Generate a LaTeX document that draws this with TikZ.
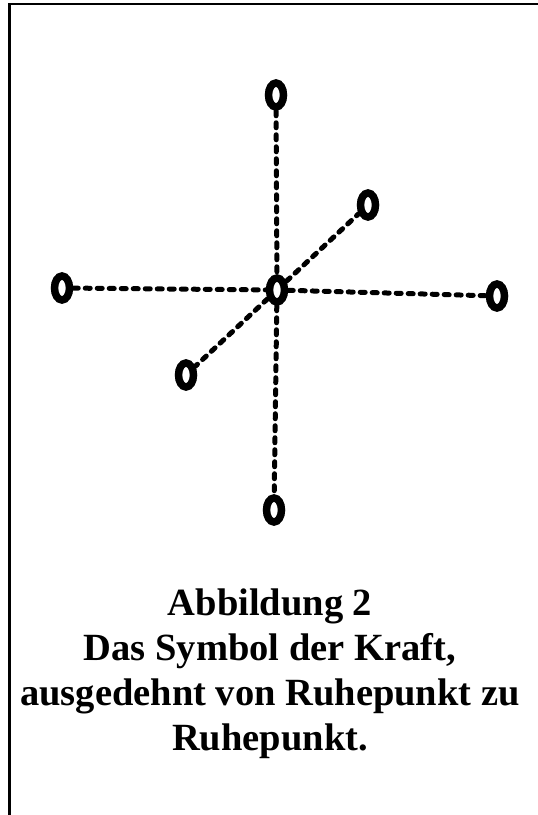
\documentclass[tikz,border=0pt]{standalone}
\usepackage{fontspec}
\setmainfont{Liberation Serif}
\usetikzlibrary{shapes.geometric}
\begin{document}
\begin{tikzpicture}[x=1pt,y=-1pt,
  ring/.style={ellipse,draw,line width=7.5pt,minimum width=15pt,minimum height=24pt,inner sep=0pt},
  dots/.style={line width=5pt,line cap=round,dash pattern=on 5pt off 7pt},
  caption/.style={align=center,font=\fontsize{38.5}{45}\selectfont\bfseries,inner sep=0pt}]
\useasboundingbox (0,0) rectangle (538,815);
\draw[line width=2.5pt] (9.5,815) -- (9.5,4) -- (538,4);
\node[ring] (c) at (277,290) {};
\node[ring] (t) at (276,95) {};
\node[ring] (b) at (274,510) {};
\node[ring] (l) at (62,288) {};
\node[ring] (r) at (497,296) {};
\node[ring] (ur) at (368,205) {};
\node[ring] (ll) at (186,375) {};
\draw[dots] (t) -- (c);
\draw[dots] (c) -- (b);
\draw[dots] (l) -- (c);
\draw[dots] (c) -- (r);
\draw[dots] (c) -- (ur);
\draw[dots] (c) -- (ll);
\node[caption] (cap) at (270,674) {Abbildung 2\\Das Symbol der Kraft,\\ausgedehnt von Ruhepunkt zu\\Ruhepunkt.};
\end{tikzpicture}
\end{document}
